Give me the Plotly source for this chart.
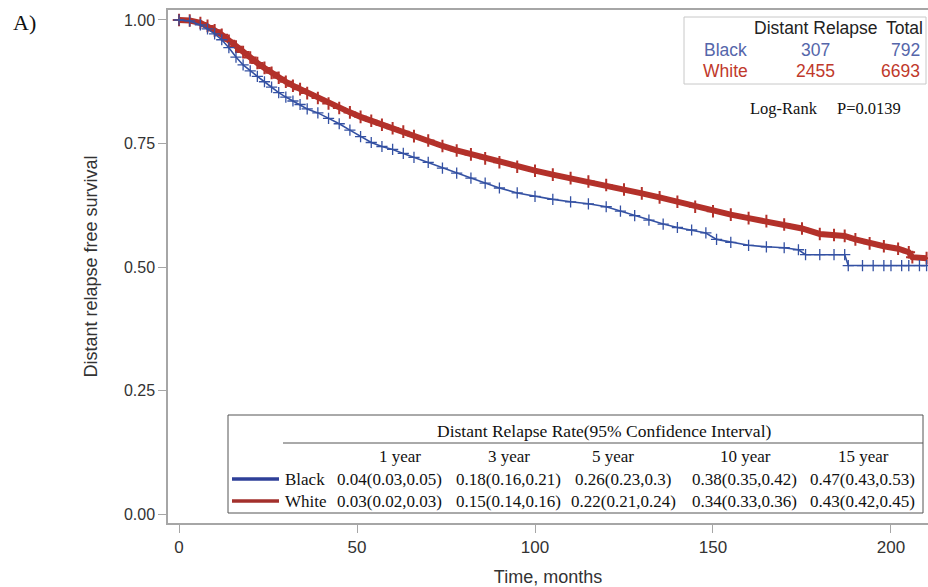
import plotly.graph_objects as go

# ---- data ----
black_time = [0, 3, 6, 8, 10, 12, 14, 16, 18, 20, 22, 24, 26, 28, 30, 32, 34, 36, 39, 42, 45, 48,
              51, 54, 57, 60, 63, 66, 70, 74, 78, 82, 86, 90, 95, 100, 105, 110, 115, 120, 124,
              128, 132, 136, 140, 144, 148, 151, 155, 160, 165, 170, 174, 176, 180, 184, 187,
              188, 192, 195, 198, 200, 203, 205, 208, 210]
black_surv = [1.0, 0.998, 0.99, 0.982, 0.972, 0.96, 0.944, 0.925, 0.909, 0.897, 0.886, 0.875,
              0.864, 0.853, 0.844, 0.836, 0.829, 0.82, 0.812, 0.801, 0.79, 0.777, 0.764, 0.752,
              0.744, 0.738, 0.73, 0.722, 0.712, 0.7, 0.69, 0.68, 0.67, 0.66, 0.65, 0.643, 0.637,
              0.632, 0.628, 0.622, 0.613, 0.604, 0.595, 0.587, 0.58, 0.575, 0.569, 0.556, 0.55,
              0.544, 0.541, 0.539, 0.535, 0.525, 0.525, 0.525, 0.525, 0.503, 0.503, 0.503, 0.503,
              0.503, 0.503, 0.503, 0.503, 0.503]

white_time = [0, 3, 6, 8, 10, 12, 14, 16, 18, 20, 22, 24, 26, 28, 30, 32, 34, 36, 39, 42, 45, 48,
              51, 54, 57, 60, 63, 66, 70, 74, 78, 82, 86, 90, 95, 100, 105, 110, 115, 120, 125,
              130, 135, 140, 145, 150, 155, 160, 165, 170, 175, 180, 184, 187, 190, 194, 198,
              202, 205, 206, 210]
white_surv = [1.0, 0.999, 0.994, 0.988, 0.979, 0.97, 0.958, 0.946, 0.935, 0.924, 0.913, 0.903,
              0.893, 0.883, 0.875, 0.867, 0.86, 0.852, 0.842, 0.831, 0.822, 0.813, 0.804, 0.796,
              0.788, 0.781, 0.774, 0.765, 0.756, 0.745, 0.736, 0.728, 0.72, 0.712, 0.703, 0.695,
              0.687, 0.68, 0.673, 0.666, 0.657, 0.649, 0.641, 0.632, 0.622, 0.613, 0.606, 0.599,
              0.593, 0.586, 0.578, 0.567, 0.565, 0.563, 0.556, 0.548, 0.542, 0.537, 0.53, 0.52,
              0.518]

groups = ["Black", "White"]
events = ["307", "2455"]
totals = ["792", "6693"]
logrank_text = "P=0.0139"

year_labels = ["1 year", "3 year", "5 year", "10 year", "15 year"]
black_rates = ["0.04(0.03,0.05)", "0.18(0.16,0.21)", "0.26(0.23,0.3)", "0.38(0.35,0.42)", "0.47(0.43,0.53)"]
white_rates = ["0.03(0.02,0.03)", "0.15(0.14,0.16)", "0.22(0.21,0.24)", "0.34(0.33,0.36)", "0.43(0.42,0.45)"]

x_ticks = [0, 50, 100, 150, 200]
y_ticks = [0, 0.25, 0.5, 0.75, 1.0]

# ---- styling ----
W, H = 928, 587
L, R, T, B = 168, 0, 10, 64
BLUE = "#3451a3"
RED = "#b3312a"
BLUE_TXT = "#5566aa"
RED_TXT = "#c0392b"
AX = "#a6a6a6"
SANS = "Liberation Sans, Arial, sans-serif"
SERIF = "Liberation Serif, Times New Roman, serif"

def px(x):  # image pixel -> paper coordinate
    return (x - L) / (W - L - R)

def py(y):
    return (H - B - y) / (H - T - B)

fig = go.Figure()
fig.add_trace(go.Scatter(
    x=white_time, y=white_surv, mode="lines+markers", line=dict(color=RED, width=6),
    marker=dict(symbol="cross-thin", size=9, line=dict(color=RED, width=2)), showlegend=False,
    name="White"))
fig.add_trace(go.Scatter(
    x=black_time, y=black_surv, mode="lines+markers", line=dict(color=BLUE, width=1.6),
    marker=dict(symbol="cross-thin", size=8, line=dict(color=BLUE, width=1.3)), showlegend=False,
    name="Black"))

shapes = []
annotations = []

def txt(x, y, s, size=16, color="#222", font=SANS, xanchor="center"):
    annotations.append(dict(x=px(x), y=py(y), xref="paper", yref="paper", text=s, showarrow=False,
                            xanchor=xanchor, yanchor="middle",
                            font=dict(family=font, size=size, color=color)))

# panel label
txt(24, 22, "A)", size=22, font=SERIF, color="#111")

# top-right count box
shapes.append(dict(type="rect", xref="paper", yref="paper", x0=px(684), x1=px(926), y0=py(84), y1=py(17),
                   line=dict(color="#c8c8c8", width=1), fillcolor="white"))
txt(816, 28, "Distant Relapse", size=17.5)
txt(904, 28, "Total", size=17.5)
row_y = [50, 71]
row_col = [BLUE_TXT, RED_TXT]
for i in range(2):
    txt(725, row_y[i], groups[i], size=17.5, color=row_col[i])
    txt(815, row_y[i], events[i], size=17.5, color=row_col[i])
    txt(922, row_y[i], totals[i], size=17.5, color=row_col[i], xanchor="right")
txt(784, 108, "Log-Rank", size=16.5, font=SERIF, color="#111")
txt(869, 108, logrank_text, size=16.5, font=SERIF, color="#111")

# bottom rate table
shapes.append(dict(type="rect", xref="paper", yref="paper", x0=px(228), x1=px(923), y0=py(513), y1=py(415),
                   line=dict(color="#555", width=1), fillcolor="white"))
shapes.append(dict(type="line", xref="paper", yref="paper", x0=px(283), x1=px(923), y0=py(443), y1=py(443),
                   line=dict(color="#555", width=1)))
txt(604, 431, "Distant Relapse Rate(95% Confidence Interval)", size=17.5, font=SERIF, color="#111")
col_x = [400, 509, 613, 745, 863]
cell_x = [389, 508, 623, 744, 862]
for j in range(5):
    txt(col_x[j], 456, year_labels[j], size=17, font=SERIF, color="#111")
rates = [black_rates, white_rates]
line_cols = ["#2e3f98", "#a3302c"]
trow_y = [479, 501]
for i in range(2):
    shapes.append(dict(type="line", xref="paper", yref="paper", x0=px(232), x1=px(279),
                       y0=py(trow_y[i]), y1=py(trow_y[i]), line=dict(color=line_cols[i], width=3.5)))
    txt(283, trow_y[i], groups[i], size=17, font=SERIF, color="#111", xanchor="left")
    for j in range(5):
        txt(cell_x[j], trow_y[i], rates[i][j], size=17, font=SERIF, color="#111")

fig.update_layout(
    width=W, height=H, margin=dict(l=L, r=R, t=T, b=B, pad=0),
    paper_bgcolor="white", plot_bgcolor="white",
    shapes=shapes, annotations=annotations,
    xaxis=dict(range=[-3.1, 210.4], tickvals=x_ticks, ticks="outside", ticklen=8, tickcolor=AX,
               showline=True, linecolor=AX, linewidth=1.5, mirror=True, showgrid=False, zeroline=False,
               tickfont=dict(family=SANS, size=17, color="#333"),
               title=dict(text="Time, months", font=dict(family=SANS, size=18, color="#333"), standoff=14)),
    yaxis=dict(range=[-0.018, 1.0202], tickvals=y_ticks, tickformat=".2f", ticks="outside", ticklen=8,
               tickcolor=AX, showline=True, linecolor=AX, linewidth=1.5, showgrid=False, zeroline=False,
               tickfont=dict(family=SANS, size=16, color="#333"),
               title=dict(text="Distant relapse free survival", font=dict(family=SANS, size=18, color="#333"),
                          standoff=22)),
)

# remove the default page margin so the figure fills the 928x587 window exactly
fig.write_html("out.html", config={"displayModeBar": False},
               post_script="document.body.style.margin='0';document.body.style.overflow='hidden';")
